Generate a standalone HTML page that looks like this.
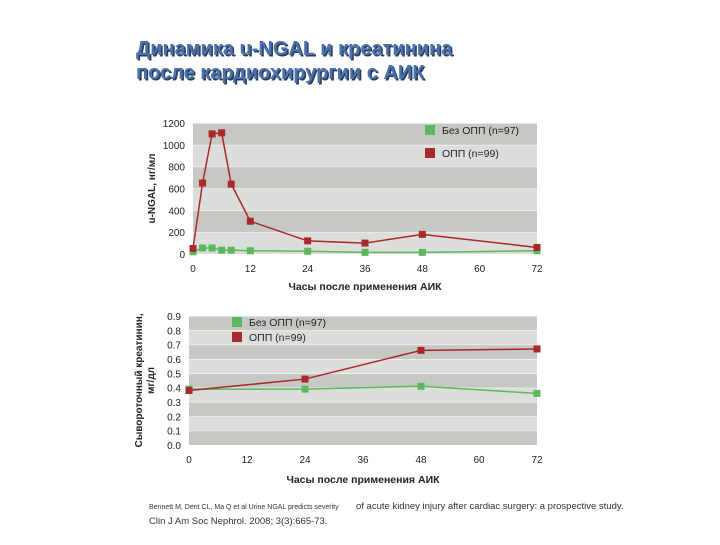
<!DOCTYPE html>
<html><head><meta charset="utf-8"><style>
body{margin:0;width:720px;height:540px;background:#fff;overflow:hidden;font-family:"Liberation Sans","DejaVu Sans",sans-serif}
</style></head><body>
<svg width="720" height="540" xmlns="http://www.w3.org/2000/svg" id="svg">
<g font-family="Liberation Sans, DejaVu Sans, sans-serif" font-weight="bold" font-size="20">
<text x="137.5" y="56.5" fill="#2a3a55">Динамика u-NGAL и креатинина</text>
<text x="136" y="55" fill="#4a72ad">Динамика u-NGAL и креатинина</text>
<text x="137.5" y="80.5" fill="#2a3a55">после кардиохирургии с АИК</text>
<text x="136" y="79" fill="#4a72ad">после кардиохирургии с АИК</text>
</g>
<g id="c1"></g>
<g id="c2"></g>
<text x="149" y="509" font-size="7" fill="#333">Bennett M, Dent CL, Ma Q et al Urine NGAL predicts severity</text>
<text x="356" y="509" font-size="9.5" fill="#333">of acute kidney injury after cardiac surgery: a prospective study.</text>
<text x="149" y="524" font-size="9.5" fill="#333">Clin J Am Soc Nephrol. 2008; 3(3):665-73.</text>
</svg>
<script>
const ngalHours=[0,2,4,6,8,12,24,36,48,72];
const ngalRed=[50,650,1100,1110,640,300,120,100,180,60];
const ngalGreen=[20,55,55,35,35,30,25,15,15,30];
const ngalTicks=[0,200,400,600,800,1000,1200];
const crHours=[0,24,48,72];
const crRed=[0.38,0.46,0.66,0.67];
const crGreen=[0.39,0.39,0.41,0.36];
const crTicks=[0,0.1,0.2,0.3,0.4,0.5,0.6,0.7,0.8,0.9];
const xTicks=[0,12,24,36,48,60,72];
const NS="http://www.w3.org/2000/svg";
function mk(p,t,a){const e=document.createElementNS(NS,t);for(const k in a)e.setAttribute(k,a[k]);p.appendChild(e);return e;}
function chart(g,o){
 const X=v=>o.x0+(v/72)*(o.x1-o.x0);
 const Y=v=>o.y0-(v/o.max)*(o.y0-o.y1);
 const n=o.ticks.length-1;
 for(let i=0;i<n;i++){
  const r=mk(g,'rect',{x:o.x0,y:Y(o.ticks[i+1]),width:o.x1-o.x0,height:Y(o.ticks[i])-Y(o.ticks[i+1]),fill:((n-1-i)%2===0)?'#c6c8c4':'#dcdedb'});
  
  
  const l=mk(g,'line',{x1:o.x0,x2:o.x1,y1:Y(o.ticks[i+1]),y2:Y(o.ticks[i+1]),stroke:'#fff','stroke-width':1});
  
  
 }
 o.ticks.forEach(t=>{const e=mk(g,'text',{x:o.x0-8,y:Y(t)+4,'text-anchor':'end','font-size':10,fill:'#222'});e.textContent=o.fmt(t);
  
  });
 xTicks.forEach(t=>{const e=mk(g,'text',{x:X(t),y:o.y0+18,'text-anchor':'middle','font-size':10,fill:'#222'});e.textContent=t;
  
  });
 const xt=mk(g,'text',{x:(o.x0+o.x1)/2,y:o.xty,'text-anchor':'middle','font-size':10.5,'font-weight':'bold',fill:'#222'});xt.textContent='Часы после применения АИК';
 
 
 o.ytitle.forEach((s,i)=>{const yt=mk(g,'text',{x:0,y:0,transform:`translate(${o.ytx+i*12},${(o.y0+o.y1)/2}) rotate(-90)`,'text-anchor':'middle','font-size':10,'font-weight':'bold',fill:'#222'});yt.textContent=s;
  
  });
 [[o.green,'#5cb85c','green'],[o.red,'#a8282b','red']].forEach(([vals,c,nm])=>{
  const pl=mk(g,'polyline',{points:o.hours.map((h,i)=>X(h)+','+Y(vals[i])).join(' '),fill:'none',stroke:c,'stroke-width':1.5});
  
  
  o.hours.forEach((h,i)=>{const r=mk(g,'rect',{x:X(h)-3.5,y:Y(vals[i])-3.5,width:7,height:7,fill:c});
   
   });
 });
 [['Без ОПП (n=97)','#5cb85c'],['ОПП (n=99)','#a8282b']].forEach(([t,c],i)=>{
  const r=mk(g,'rect',{x:o.lx,y:o.ly+i*o.lg-5,width:10,height:10,fill:c});
  
  
  const e=mk(g,'text',{x:o.lx+17,y:o.ly+i*o.lg+4,'font-size':10.5,fill:'#222'});e.textContent=t;
  
  
 });
}
chart(document.getElementById('c1'),{x0:193,x1:537,y0:254,y1:123,max:1200,ticks:ngalTicks,fmt:t=>t,hours:ngalHours,red:ngalRed,green:ngalGreen,xty:290,ytitle:['u-NGAL, нг/мл'],ytx:155,lx:425,ly:130,lg:23});
chart(document.getElementById('c2'),{x0:189,x1:537,y0:445,y1:316,max:0.9,ticks:crTicks,fmt:t=>t.toFixed(1),hours:crHours,red:crRed,green:crGreen,xty:483,ytitle:['Сывороточный креатинин,','мг/дл'],ytx:142,lx:232,ly:322,lg:15});
</script>
</body></html>
